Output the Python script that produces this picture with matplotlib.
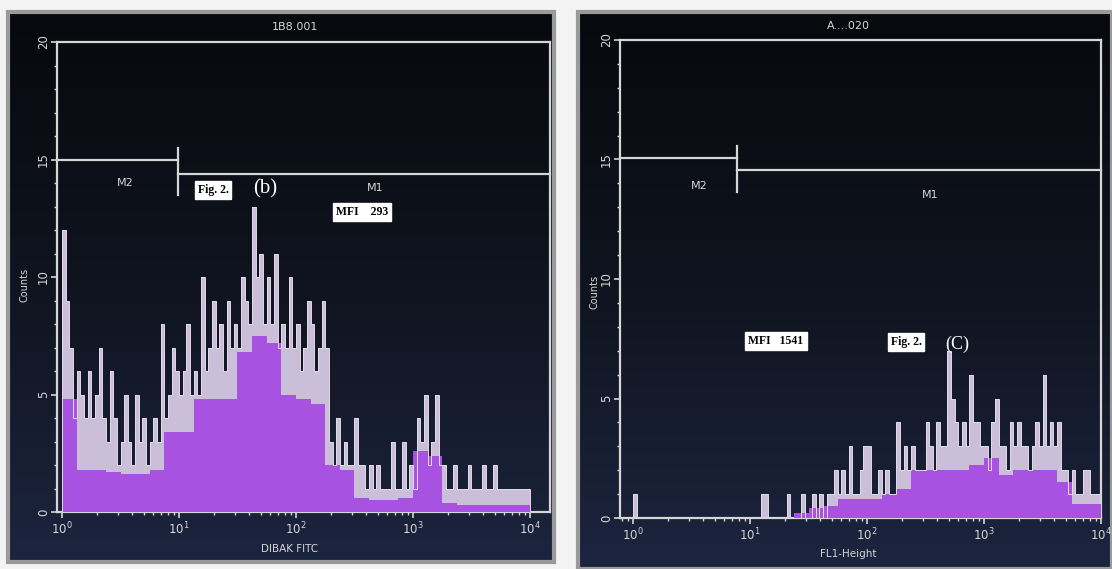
import numpy as np
import matplotlib
matplotlib.use("Agg")
import matplotlib.pyplot as plt
from matplotlib.patches import Rectangle
from matplotlib.colors import LinearSegmentedColormap
from matplotlib.ticker import LogLocator, NullFormatter, MultipleLocator

# ---------------- data ----------------
decade_ticks = [1, 10, 100, 1000, 10000]
decade_labels = ["$10^0$", "$10^1$", "$10^2$", "$10^3$", "$10^4$"]
count_ticks = [0, 5, 10, 15, 20]

# panel (b): DIBAK FITC, 128 log channels 10^0..10^4
counts_b = [
    12, 9, 7, 4, 6, 5, 4, 6, 4, 5, 7, 4, 3, 6, 4, 2,
    3, 5, 3, 2, 5, 3, 4, 2, 3, 4, 3, 8, 4, 5, 7, 6,
    5, 6, 8, 5, 6, 5, 10, 6, 7, 9, 7, 8, 6, 9, 7, 8,
    7, 10, 9, 8, 13, 10, 11, 8, 10, 8, 11, 7, 8, 7, 10, 7,
    8, 6, 7, 9, 8, 6, 7, 9, 7, 3, 2, 4, 2, 3, 2, 2,
    4, 2, 2, 1, 2, 1, 2, 1, 1, 1, 3, 1, 1, 3, 1, 2,
    1, 4, 3, 5, 2, 3, 5, 2, 2, 1, 1, 2, 1, 1, 1, 2,
    1, 1, 1, 2, 1, 1, 2, 1, 1, 1, 1, 1, 1, 1, 1, 1,
]
# purple body level, 32 coarse channels
body_b = [
    4.8, 1.8, 1.8, 1.7, 1.6, 1.6, 1.8, 3.4,
    3.4, 4.8, 4.8, 4.8, 6.8, 7.5, 7.2, 5.0,
    4.8, 4.6, 2.0, 1.8, 0.6, 0.5, 0.5, 0.6,
    2.6, 2.4, 0.4, 0.3, 0.3, 0.3, 0.3, 0.3,
]

# panel (C): FL1-Height
counts_c = [
    1, 0, 0, 0, 0, 0, 0, 0, 0, 0, 0, 0, 0, 0, 0, 0,
    0, 0, 0, 0, 0, 0, 0, 0, 0, 0, 0, 0, 0, 0, 0, 0,
    0, 0, 0, 1, 1, 0, 0, 0, 0, 0, 1, 0, 0, 0, 1, 0,
    0, 1, 0, 1, 0, 1, 1, 2, 1, 2, 1, 3, 1, 1, 2, 3,
    3, 1, 1, 2, 1, 2, 1, 1, 4, 2, 3, 2, 3, 2, 2, 2,
    4, 3, 2, 4, 3, 3, 7, 5, 4, 3, 4, 3, 6, 4, 4, 3,
    3, 2, 4, 5, 3, 3, 2, 4, 3, 4, 3, 3, 2, 3, 4, 3,
    6, 3, 4, 3, 4, 2, 2, 1, 2, 1, 1, 2, 2, 1, 1, 1,
]
body_c = [
    0, 0, 0, 0, 0, 0, 0, 0,
    0, 0, 0, 0.2, 0.4, 0.5, 0.8, 0.8,
    0.8, 1.0, 1.2, 2.0, 2.0, 2.0, 2.0, 2.2,
    2.5, 1.8, 2.0, 2.0, 2.0, 1.5, 0.6, 0.6,
]

edges = np.logspace(0, 4, len(counts_b) + 1)
cedges = np.logspace(0, 4, len(body_b) + 1)

# ---------------- figure ----------------
W, H = 1112, 569
fig = plt.figure(figsize=(W / 100, H / 100), dpi=100, facecolor="#f3f3f3")


def fr(x0, y0, x1, y1):
    return [x0 / W, 1 - y1 / H, (x1 - x0) / W, (y1 - y0) / H]


cmap = LinearSegmentedColormap.from_list("scr", ["#07090d", "#10141f", "#1c2540"])
grad = np.linspace(0, 1, 256).reshape(-1, 1)
for (x0, y0, x1, y1) in [(8, 12, 554, 562), (578, 12, 1112, 569)]:
    bg = fig.add_axes(fr(x0, y0, x1, y1), zorder=0)
    bg.imshow(grad, aspect="auto", cmap=cmap, extent=[0, 1, 0, 1], origin="upper")
    bg.set_axis_off()
    fig.patches.append(Rectangle((x0 / W, 1 - y1 / H), (x1 - x0) / W, (y1 - y0) / H,
                                 transform=fig.transFigure, fill=False,
                                 ec="#9a9a9a", lw=3, zorder=1))

LINE = "#d6d6d6"
SPIKE = "#cbbed8"
PURPLE = "#a852e2"


def panel(rect, xlim, counts, body, gate_y2, gate_y1, gate_x, m2_pos, m1_pos,
          title, title_xy, xlabel, xlabel_xy, counts_xy):
    ax = fig.add_axes(fr(*rect), zorder=2)
    ax.patch.set_alpha(0)
    ax.set_xscale("log")
    ax.set_xlim(*xlim)
    ax.set_ylim(0, 20)
    ax.stairs(counts, edges, fill=True, color=SPIKE, zorder=2)
    ax.stairs(body, cedges, fill=True, color=PURPLE, zorder=3)
    ax.stairs(counts, edges, color="#e2dae8", lw=0.7, zorder=4)
    for s in ax.spines.values():
        s.set_color(LINE)
        s.set_linewidth(1.6)
    ax.set_xticks(decade_ticks)
    ax.set_xticklabels(decade_labels)
    ax.xaxis.set_minor_locator(LogLocator(base=10, subs=np.arange(2, 10)))
    ax.xaxis.set_minor_formatter(NullFormatter())
    ax.set_yticks(count_ticks)
    ax.set_yticklabels([str(v) for v in count_ticks])
    ax.yaxis.set_minor_locator(MultipleLocator(1))
    ax.tick_params(axis="both", which="both", colors=LINE, direction="out")
    ax.tick_params(axis="both", which="major", length=4, width=1.2, labelsize=8.5)
    ax.tick_params(axis="both", which="minor", length=2.5, width=1)
    ax.tick_params(axis="y", labelrotation=90, pad=1)
    ax.tick_params(axis="x", pad=2)
    for lab in ax.get_yticklabels():
        lab.set_va("center")
    # gates
    ax.plot([xlim[0], gate_x], [gate_y2, gate_y2], color=LINE, lw=1.6, clip_on=False, zorder=5)
    ax.plot([gate_x, xlim[1]], [gate_y1, gate_y1], color=LINE, lw=1.6, clip_on=False, zorder=5)
    ax.plot([gate_x, gate_x], [gate_y2 + 0.5, gate_y1 - 0.9], color=LINE, lw=1.6, zorder=5)
    ax.text(m2_pos[0], m2_pos[1], "M2", color=LINE, fontsize=8, ha="center", va="center")
    ax.text(m1_pos[0], m1_pos[1], "M1", color=LINE, fontsize=8, ha="center", va="center")
    fig.text(title_xy[0] / W, 1 - title_xy[1] / H, title, color=LINE, fontsize=8,
             ha="center", va="center")
    fig.text(xlabel_xy[0] / W, 1 - xlabel_xy[1] / H, xlabel, color=LINE, fontsize=7.5,
             ha="center", va="center")
    fig.text(counts_xy[0] / W, 1 - counts_xy[1] / H, "Counts", color=LINE, fontsize=7,
             rotation=90, ha="center", va="center")
    return ax


axb = panel((57, 42, 550, 512), (10 ** (-5 / 117), 10 ** (488 / 117)), counts_b, body_b,
            15.0, 14.4, 10 ** 0.99, (10 ** 0.54, 14.0), (10 ** 2.68, 13.8),
            "1B8.001", (295, 27), "DIBAK FITC", (290, 549), (24, 285))
axc = panel((620, 40, 1101, 518), (10 ** (-13 / 117), 10 ** (468 / 117)), counts_c, body_c,
            15.05, 14.55, 10 ** 0.89, (10 ** 0.57, 13.9), (10 ** 2.54, 13.5),
            "A....020", (848, 26), "FL1-Height", (848, 554), (594, 292))

# annotation boxes
serif = ["Liberation Serif", "DejaVu Serif"]
box = dict(boxstyle="square,pad=0.25", fc="white", ec="white")


def label(x, y, s, size=8.5):
    fig.text(x / W, 1 - y / H, s, fontsize=size, family=serif, weight="bold",
             color="black", ha="center", va="center", bbox=box, zorder=10)


label(213, 190, "Fig. 2.")
fig.text(265 / W, 1 - 189 / H, "(b)", fontsize=15, family=serif, color="white",
         ha="center", va="center", zorder=10)
label(362, 212, "MFI    293")
label(776, 341, "MFI   1541")
label(906, 342, "Fig. 2.")
fig.text(957 / W, 1 - 344 / H, "(C)", fontsize=13, family=serif, color="white",
         ha="center", va="center", zorder=10)

fig.savefig("out.png", dpi=100, facecolor=fig.get_facecolor())
